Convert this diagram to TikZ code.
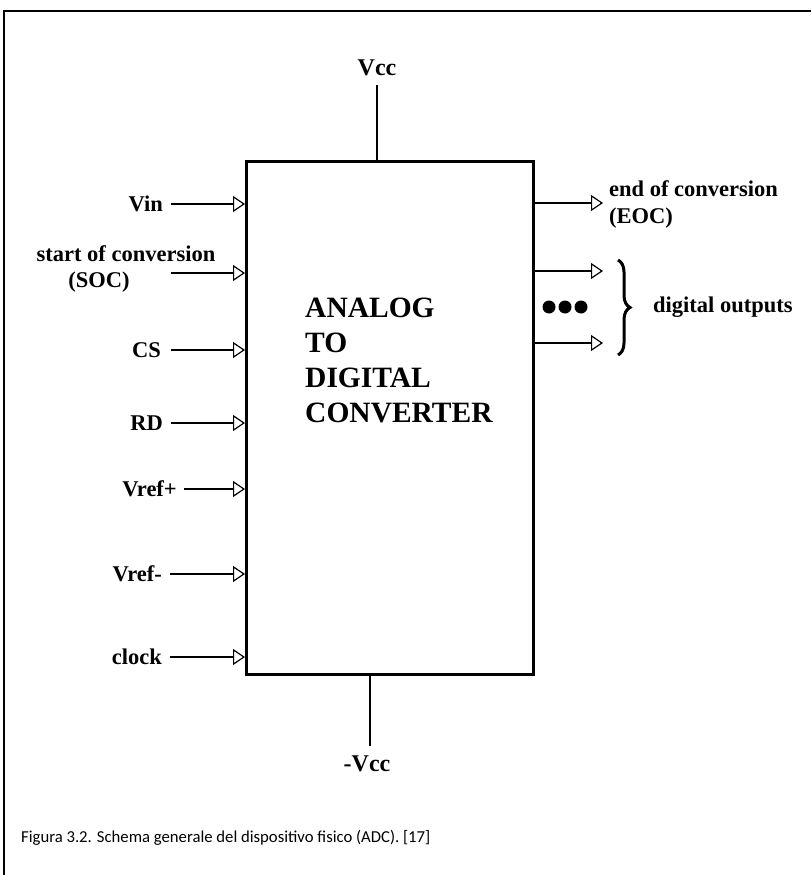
\documentclass[tikz,border=0pt]{standalone}
\usepackage{fontspec}
\setmainfont{Liberation Serif}
\newfontfamily\capfont{Carlito}
\usetikzlibrary{arrows.meta,decorations.pathreplacing}
\begin{document}
\begin{tikzpicture}[x=1pt,y=-1pt,
  lbl/.style={font=\fontsize{22.5}{24}\selectfont\bfseries, inner sep=0pt},
  pwrlbl/.style={font=\fontsize{24}{26}\selectfont\bfseries, inner sep=0pt},
  big/.style={font=\fontsize{29.5}{35}\selectfont\bfseries, inner sep=0pt, anchor=base west},
  sig/.style={line width=1.2pt, -{Triangle[open,length=12pt,width=16pt,line width=1.2pt]}},
  pwr/.style={line width=1.4pt},
  dot/.style={circle, fill=black, inner sep=0pt, minimum size=13pt}]
\useasboundingbox (0,0) rectangle (811,875);
% outer frame (top and left only)
\draw[line width=2pt] (4,875) -- (4,11) -- (811,11);
% main block
\node[draw, line width=3pt, minimum width=287pt, minimum height=513pt, inner sep=0pt, anchor=north west] (adc) at (245,160) {};
\node[big] (an1) at (305,317) {ANALOG};
\node[big] (an2) at (305,352) {TO};
\node[big] (an3) at (305,387) {DIGITAL};
\node[big] (an4) at (305,422) {CONVERTER};
% power
\node[pwrlbl] (vcc) at (377,68) {Vcc};
\coordinate (vccT) at (377,85);
\draw[pwr] (vccT) -- (vccT |- adc.north);
\node[pwrlbl] (mvcc) at (367,764) {-Vcc};
\coordinate (mvccB) at (370,746);
\draw[pwr] (mvccB |- adc.south) -- (mvccB);
% inputs
\node[lbl, anchor=east] (vin) at (163,204) {Vin};
\draw[sig] ([xshift=8pt]vin.east) -- (vin.east -| adc.west);
\node[lbl, anchor=base] (soc1) at (126,261) {start of conversion};
\node[lbl, anchor=base] (soc2) at (99,287) {(SOC)};
\coordinate (socS) at (171,273);
\draw[sig] (socS) -- (socS -| adc.west);
\node[lbl, anchor=east] (cs) at (161,350) {CS};
\draw[sig] ([xshift=10pt]cs.east) -- (cs.east -| adc.west);
\node[lbl, anchor=east] (rd) at (163,423) {RD};
\draw[sig] ([xshift=8pt]rd.east) -- (rd.east -| adc.west);
\node[lbl, anchor=east] (vrefp) at (177,489) {Vref+};
\draw[sig] ([xshift=7pt]vrefp.east) -- (vrefp.east -| adc.west);
\node[lbl, anchor=east] (vrefm) at (162,574) {Vref-};
\draw[sig] ([xshift=8pt]vrefm.east) -- (vrefm.east -| adc.west);
\node[lbl, anchor=east] (clk) at (162,657) {clock};
\draw[sig] ([xshift=8pt]clk.east) -- (clk.east -| adc.west);
% outputs
\coordinate (eocT) at (603,203);
\draw[sig] (eocT -| adc.east) -- (eocT);
\node[lbl, anchor=base west] (eoc1) at (609,196) {end of conversion};
\node[lbl, anchor=base west] (eoc2) at (609,223) {(EOC)};
\coordinate (do1) at (603,271);
\coordinate (do2) at (603,343);
\draw[sig] (do1 -| adc.east) -- (do1);
\draw[sig] (do2 -| adc.east) -- (do2);
\node[dot] (d1) at (549,307) {};
\node[dot] (d2) at (565,307) {};
\node[dot] (d3) at (581,307) {};
\coordinate (brT) at (618,260);
\coordinate (brB) at (618,355);
\draw[line width=3pt, decorate, decoration={brace, amplitude=12pt}] (brT) -- (brB);
\node[lbl, anchor=west] (dig) at (653,307) {digital outputs};
% caption
\node[font=\capfont\fontsize{16.7}{20}\selectfont, anchor=west, inner sep=0pt] (cap) at (21,838) {Figura 3.2. Schema generale del dispositivo fisico (ADC). [17]};
\end{tikzpicture}
\end{document}
